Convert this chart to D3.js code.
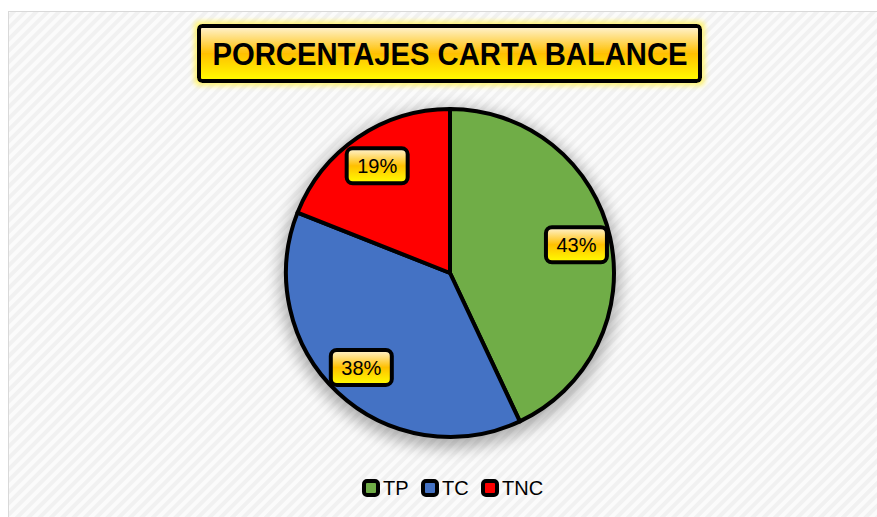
<!DOCTYPE html>
<html>
<head>
<meta charset="utf-8">
<script src="https://cdn.jsdelivr.net/npm/d3@7"></script>
<style>
  body { margin: 0; background: #fff; }
  svg { display: block; }
</style>
</head>
<body>
<svg id="chart"></svg>
<script>
// Chart data
const categories = ['TP', 'TC', 'TNC'];
const values = [43, 38, 19];
const colors = ['#70AD47', '#4472C4', '#FF0000'];
const title = 'PORCENTAJES CARTA BALANCE';

const width = 877;
const height = 517;

const svg = d3.select('#chart')
  .attr('width', width)
  .attr('height', height);

const defs = svg.append('defs');

// Diagonal stripe background pattern
const pattern = defs.append('pattern')
  .attr('id', 'stripes')
  .attr('patternUnits', 'userSpaceOnUse')
  .attr('width', 8)
  .attr('height', 8)
  .attr('patternTransform', 'rotate(45)');
pattern.append('rect').attr('width', 8).attr('height', 8).attr('fill', '#fbfbfb');
pattern.append('rect').attr('width', 4).attr('height', 8).attr('fill', '#f1f1f1');

// Yellow gradient used by the title and data labels
const grad = defs.append('linearGradient')
  .attr('id', 'gold')
  .attr('x1', 0).attr('y1', 0).attr('x2', 0).attr('y2', 1);
grad.append('stop').attr('offset', '0%').attr('stop-color', '#FFF4D6');
grad.append('stop').attr('offset', '50%').attr('stop-color', '#FFC000');
grad.append('stop').attr('offset', '100%').attr('stop-color', '#FFFF00');

// Glow around the title box
const glow = defs.append('filter').attr('id', 'glow')
  .attr('x', '-10%').attr('y', '-40%').attr('width', '120%').attr('height', '180%');
glow.append('feMorphology').attr('in', 'SourceAlpha').attr('operator', 'dilate').attr('radius', 3).attr('result', 'd');
glow.append('feGaussianBlur').attr('in', 'd').attr('stdDeviation', 2.5).attr('result', 'b');
glow.append('feFlood').attr('flood-color', '#FFF36B').attr('flood-opacity', 0.9);
glow.append('feComposite').attr('in2', 'b').attr('operator', 'in').attr('result', 'g');
const gm = glow.append('feMerge');
gm.append('feMergeNode').attr('in', 'g');
gm.append('feMergeNode').attr('in', 'SourceGraphic');

// Soft shadow under the pie
const shadow = defs.append('filter').attr('id', 'shadow')
  .attr('x', '-30%').attr('y', '-30%').attr('width', '160%').attr('height', '160%');
shadow.append('feGaussianBlur').attr('stdDeviation', 8);

// Chart area
svg.append('rect')
  .attr('x', 8.5).attr('y', 11.5)
  .attr('width', width - 8).attr('height', height - 11)
  .attr('fill', 'url(#stripes)')
  .attr('stroke', '#d9d9d9');

// Title
const titleG = svg.append('g');
titleG.append('rect')
  .attr('x', 199).attr('y', 26)
  .attr('width', 501).attr('height', 55)
  .attr('rx', 3)
  .attr('fill', 'url(#gold)')
  .attr('stroke', '#000')
  .attr('stroke-width', 4)
  .attr('filter', 'url(#glow)');
titleG.append('text')
  .attr('x', 450).attr('y', 65)
  .attr('text-anchor', 'middle')
  .attr('font-family', '"Liberation Sans Narrow", "Arial Narrow", "Liberation Sans", Arial, sans-serif')
  .attr('font-weight', 'bold')
  .attr('font-size', 32)
  .attr('textLength', 475)
  .attr('lengthAdjust', 'spacingAndGlyphs')
  .attr('fill', '#000')
  .text(title);

// Pie
const cx = 450, cy = 273, radius = 164;
const data = categories.map((c, i) => ({ name: c, value: values[i], color: colors[i] }));

const pie = d3.pie().sort(null).value(d => d.value);
const arcs = pie(data);
const arc = d3.arc().innerRadius(0).outerRadius(radius);
const labelArc = d3.arc().innerRadius(radius * 0.79).outerRadius(radius * 0.79);

const pieG = svg.append('g').attr('transform', `translate(${cx},${cy})`);

pieG.append('circle')
  .attr('cx', 0).attr('cy', 5).attr('r', radius + 6)
  .attr('fill', '#000')
  .attr('opacity', 0.3)
  .attr('filter', 'url(#shadow)');

pieG.selectAll('path.slice')
  .data(arcs)
  .enter().append('path')
  .attr('class', 'slice')
  .attr('d', arc)
  .attr('fill', d => d.data.color)
  .attr('stroke', '#000')
  .attr('stroke-width', 4)
  .attr('stroke-linejoin', 'round');

// Data labels
const total = d3.sum(values);
const labelW = 61, labelH = 35;
const labels = pieG.selectAll('g.label')
  .data(arcs)
  .enter().append('g')
  .attr('class', 'label')
  .attr('transform', d => `translate(${labelArc.centroid(d)})`);

labels.append('rect')
  .attr('x', -labelW / 2).attr('y', -labelH / 2)
  .attr('width', labelW).attr('height', labelH)
  .attr('rx', 6)
  .attr('fill', 'url(#gold)')
  .attr('stroke', '#000')
  .attr('stroke-width', 4);

labels.append('text')
  .attr('text-anchor', 'middle')
  .attr('dy', '0.36em')
  .attr('font-family', '"Liberation Sans", Arial, sans-serif')
  .attr('font-size', 20)
  .attr('fill', '#000')
  .text(d => Math.round(d.data.value / total * 100) + '%');

// Legend
const legendX = [362, 421, 481];
const legend = svg.append('g')
  .selectAll('g')
  .data(data)
  .enter().append('g')
  .attr('transform', (d, i) => `translate(${legendX[i]},488)`);

legend.append('rect')
  .attr('x', 2).attr('y', -7)
  .attr('width', 14).attr('height', 14)
  .attr('rx', 3)
  .attr('fill', d => d.color)
  .attr('stroke', '#000')
  .attr('stroke-width', 4);

legend.append('text')
  .attr('x', 21)
  .attr('y', 7)
  .attr('font-family', '"Liberation Sans", Arial, sans-serif')
  .attr('font-size', 20)
  .attr('fill', '#000')
  .text(d => d.name);
</script>
</body>
</html>
